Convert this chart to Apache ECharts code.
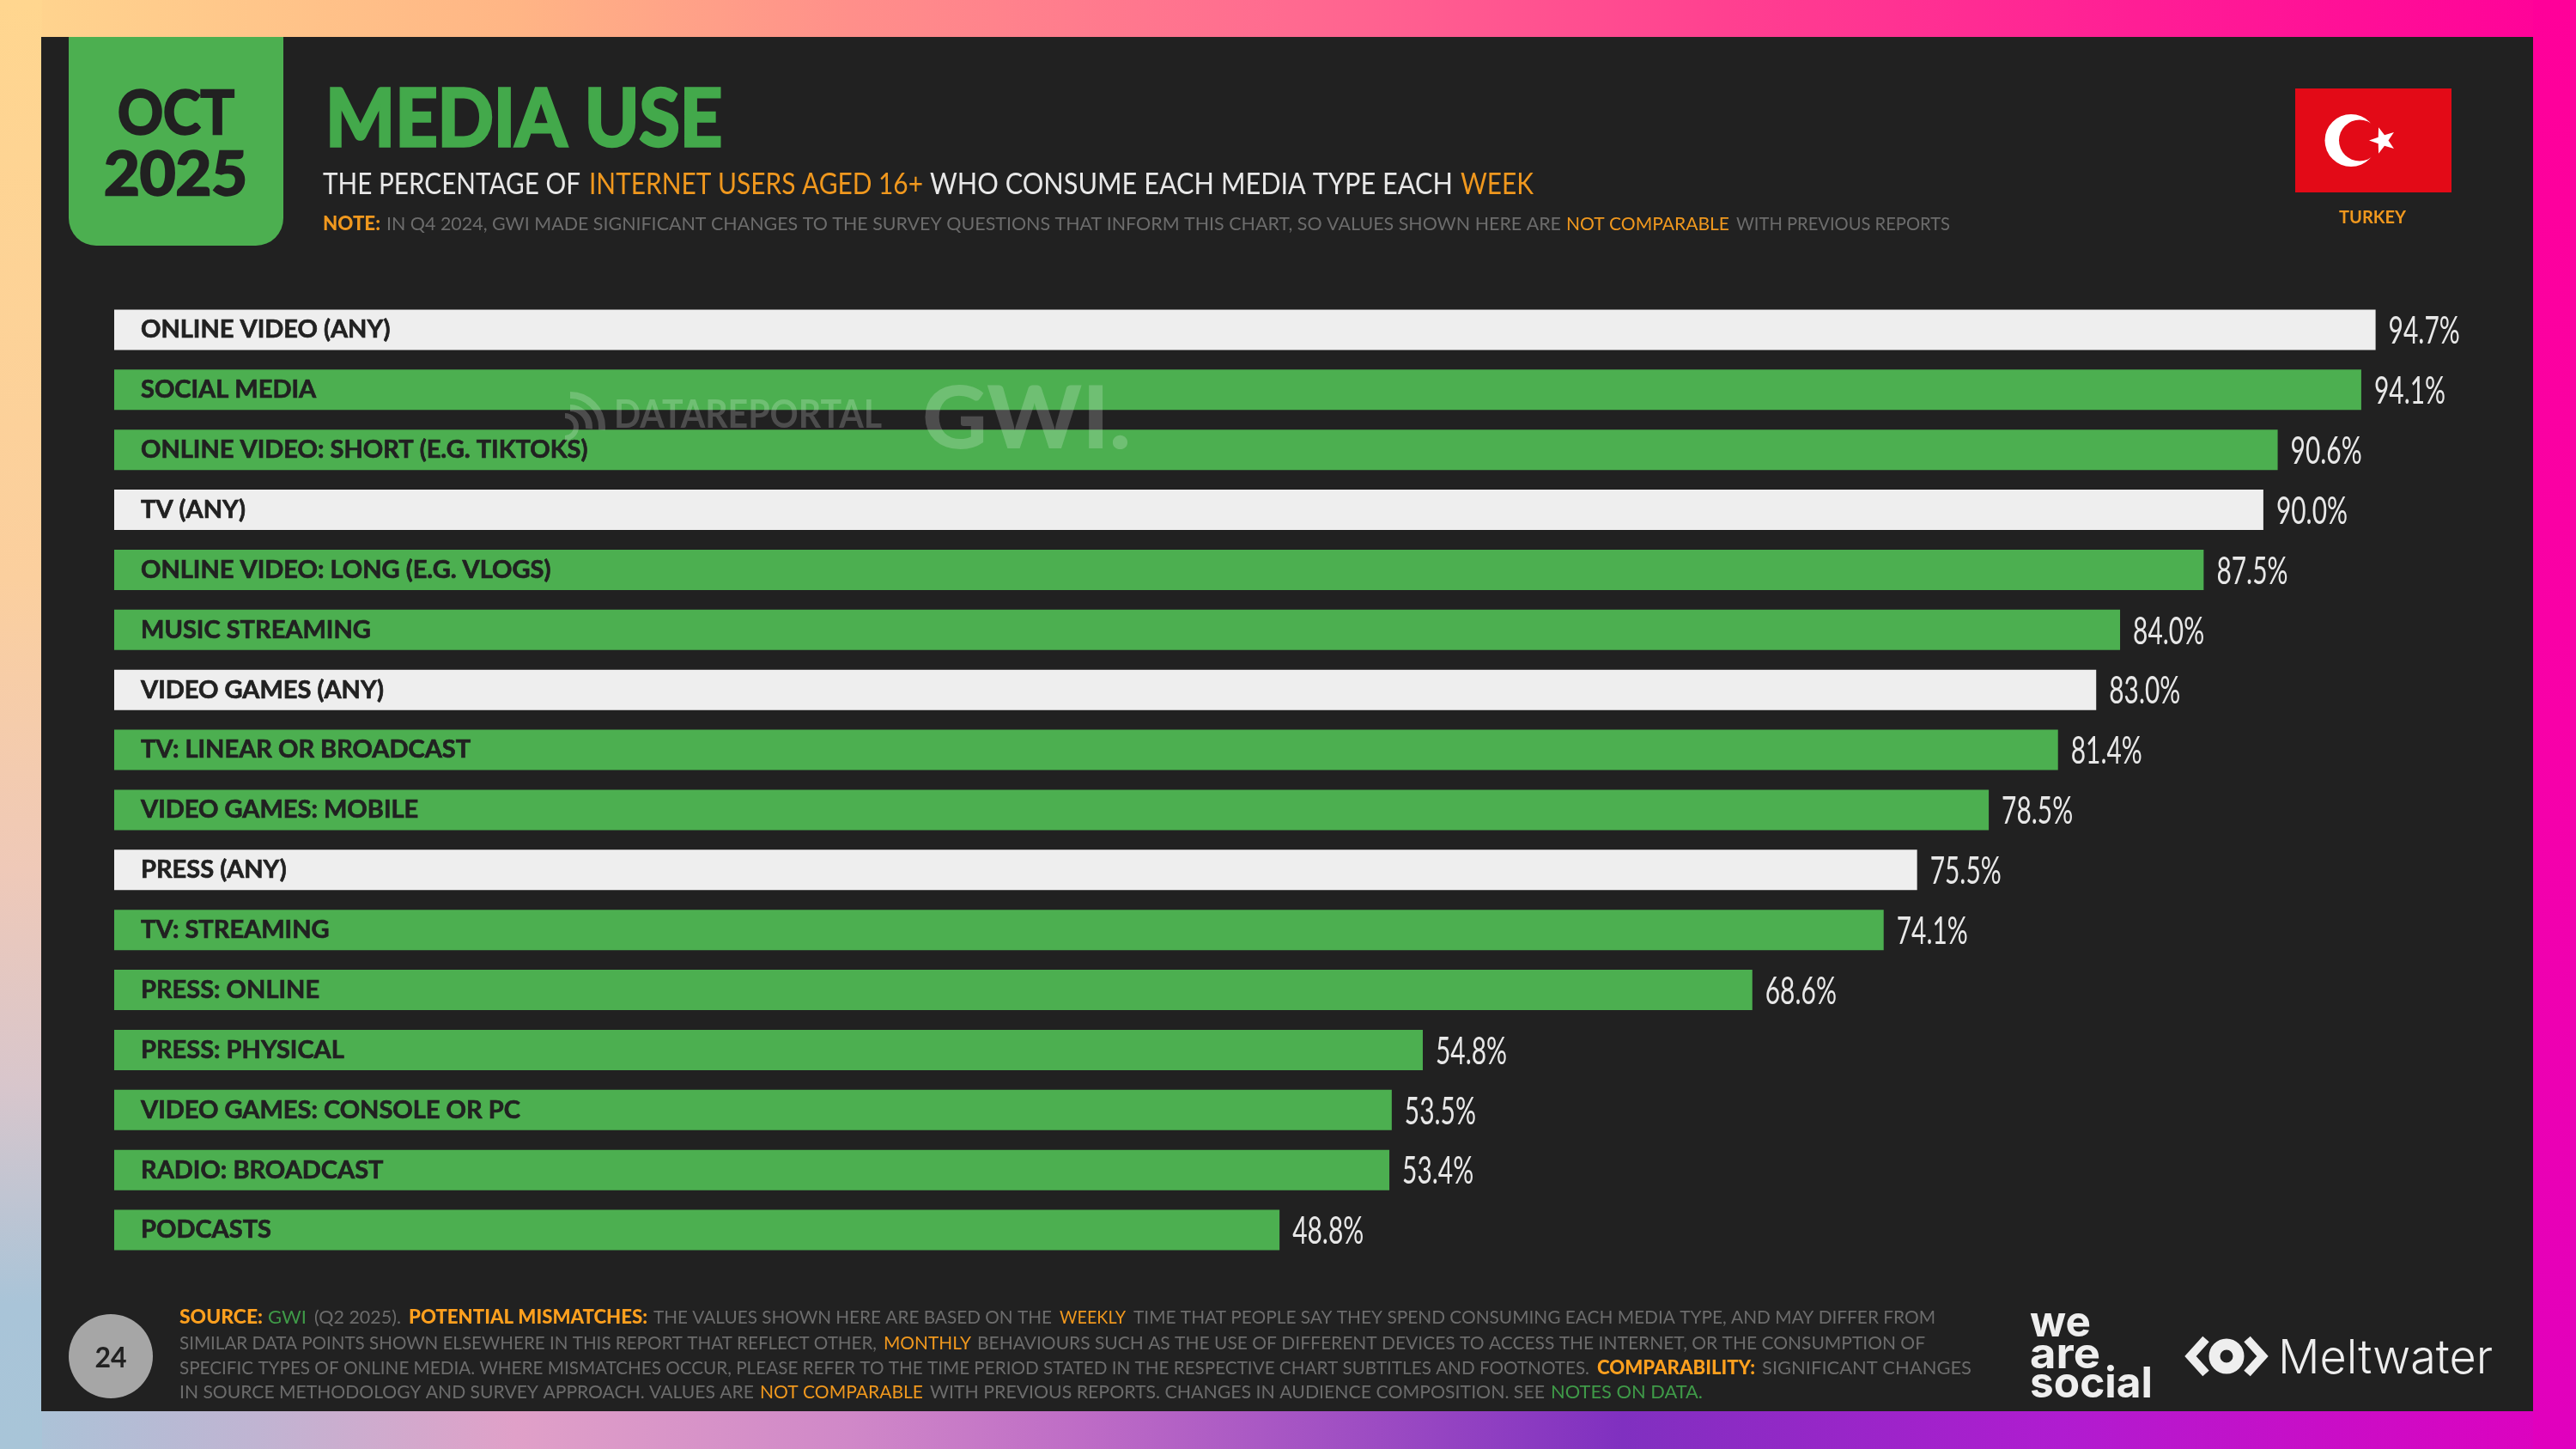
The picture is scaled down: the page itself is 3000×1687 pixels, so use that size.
<!DOCTYPE html>
<html><head><meta charset="utf-8"><title>Media Use</title>
<style>html,body{margin:0;padding:0;background:#212121}#c{width:3000px;height:1687px}</style>
<script src="https://cdn.jsdelivr.net/npm/echarts@6/dist/echarts.min.js"></script>
</head><body><div id="c"></div>
<script>
const categories = ['ONLINE VIDEO (ANY)','SOCIAL MEDIA','ONLINE VIDEO: SHORT (E.G. TIKTOKS)','TV (ANY)','ONLINE VIDEO: LONG (E.G. VLOGS)','MUSIC STREAMING','VIDEO GAMES (ANY)','TV: LINEAR OR BROADCAST','VIDEO GAMES: MOBILE','PRESS (ANY)','TV: STREAMING','PRESS: ONLINE','PRESS: PHYSICAL','VIDEO GAMES: CONSOLE OR PC','RADIO: BROADCAST','PODCASTS'];
const values = [94.7,94.1,90.6,90.0,87.5,84.0,83.0,81.4,78.5,75.5,74.1,68.6,54.8,53.5,53.4,48.8];

const GREEN='#4CAF50', WHITE='#EEEEEE', DARK='#212121', ORANGE='#F0981E', BRIGHT='#FFA01E', GREY='#6C6C6C', TXT='#E8E8E8', LINK='#3F9A48', FONT='Lato';
const measure = document.createElement('canvas').getContext('2d');
const grad = (x2,y2,stops)=>({type:'linear',x:0,y:0,x2,y2,colorStops:stops.map(([offset,color])=>({offset,color}))});
const els = [];
const rect=(x,y,width,height,fill,extra)=>els.push(Object.assign({type:'rect',silent:true,shape:{x,y,width,height},style:{fill}},extra||{}));

/* each segment: [text, colour, x start, x end, weight, font, outline] – squeezed to span its x range */
function line(segs,base,size,z){
  const y=base+size*0.2;
  segs.forEach(([text,fill,x0,x1,weight,family,outline])=>{
    const font=`${weight||400} ${size}px ${family||FONT}`;
    measure.font=font;
    const style={text,fill,font,textAlign:'left',textVerticalAlign:'bottom'};
    if(outline){style.stroke=fill;style.lineWidth=outline;}
    els.push({type:'text',silent:true,x:x0,y,scaleX:(x1-x0)/measure.measureText(text).width,z:z||1,style});
  });
}

/* frame */
rect(0,0,3000,44,grad(1,0,[[0,'#FFD68F'],[0.2,'#FFB585'],[0.33,'#FF8F8A'],[0.5,'#FF6A90'],[0.67,'#FF4090'],[0.83,'#FF1E95'],[1,'#FF0099']]));
rect(0,1642,3000,45,grad(1,0,[[0,'#A8C5D8'],[0.1,'#C0B4D2'],[0.2,'#E0A0C8'],[0.33,'#D088C8'],[0.42,'#BE6CC6'],[0.63,'#8030C0'],[0.8,'#B01CD0'],[1,'#E000BE']]));
rect(0,0,49,1687,grad(0,1,[[0,'#FFD68F'],[0.4,'#FBCF9E'],[0.6,'#EFC9B8'],[0.75,'#D8C6CC'],[0.9,'#A9C4D8'],[1,'#A8C5D8']]));
rect(2950,0,50,1687,grad(0,1,[[0,'#FF0099'],[0.5,'#F800A8'],[1,'#E000BE']]));
rect(48,43,2902,1600,DARK);

/* date tab */
rect(80,43,250,243,GREEN,{shape:{x:80,y:43,width:250,height:243,r:[0,0,32,32]}});
line([['OCT',DARK,137,273,700,FONT,2.5]],154,70);
line([['2025',DARK,121,288,700,FONT,2.5]],225,70);

/* headings */
line([['MEDIA USE','#43A94B',379,841,700,FONT,3.5]],168,92);
line([['THE PERCENTAGE OF',TXT,376,676],['INTERNET USERS AGED 16+',ORANGE,686,1075],['WHO CONSUME EACH MEDIA TYPE EACH',TXT,1083,1692],['WEEK',ORANGE,1701,1786]],225,35);
line([['NOTE:',ORANGE,376,443,900],['IN Q4 2024, GWI MADE SIGNIFICANT CHANGES TO THE SURVEY QUESTIONS THAT INFORM THIS CHART, SO VALUES SHOWN HERE ARE',GREY,450,1818],['NOT COMPARABLE',ORANGE,1824,2014],['WITH PREVIOUS REPORTS',GREY,2022,2271]],268,22);

/* flag */
rect(2673,103,182,121,'#E30A17');
els.push({type:'circle',silent:true,shape:{cx:2738,cy:163.5,r:30.5},style:{fill:'#FFFFFF'}});
els.push({type:'circle',silent:true,shape:{cx:2748,cy:163.5,r:24},style:{fill:'#E30A17'}});
const starPts=[];for(let i=0;i<10;i++){const r=i%2?6.5:16,a=Math.PI+i*Math.PI/5;starPts.push([2775+r*Math.cos(a),163.5+r*Math.sin(a)]);}
els.push({type:'polygon',silent:true,shape:{points:starPts},style:{fill:'#FFFFFF'}});
line([['TURKEY',ORANGE,2724,2802,700]],260,21);

/* watermark */
const WM='rgba(255,255,255,0.2)';
line([['DATAREPORTAL',WM,715,1027,700]],497,46,50);
line([['GWI.',WM,1074,1317,900]],520,101,50);
els.push({type:'arc',silent:true,z:50,shape:{cx:664,cy:497,r:37,startAngle:-Math.PI/2,endAngle:0.1},style:{stroke:WM,fill:null,lineWidth:8}});
els.push({type:'arc',silent:true,z:50,shape:{cx:664,cy:497,r:22,startAngle:-Math.PI/2,endAngle:0.1},style:{stroke:WM,fill:null,lineWidth:8}});
els.push({type:'arc',silent:true,z:50,shape:{cx:658,cy:497,r:13,startAngle:-Math.PI/2,endAngle:Math.PI/2},style:{stroke:WM,fill:null,lineWidth:6}});

/* footer */
els.push({type:'circle',silent:true,shape:{cx:129,cy:1579,r:49},style:{fill:'#A6A6A6'}});
els.push({type:'text',silent:true,x:129,y:1582,style:{text:'24',fill:DARK,font:'700 32px '+FONT,textAlign:'center',textVerticalAlign:'middle'}});
line([['SOURCE:',BRIGHT,209,306,900],['GWI',LINK,312,357],['(Q2 2025).',GREY,366,467],['POTENTIAL MISMATCHES:',BRIGHT,476,754,900],['THE VALUES SHOWN HERE ARE BASED ON THE',GREY,761,1225],['WEEKLY',ORANGE,1234,1311],['TIME THAT PEOPLE SAY THEY SPEND CONSUMING EACH MEDIA TYPE, AND MAY DIFFER FROM',GREY,1320,2254]],1541,22);
line([['SIMILAR DATA POINTS SHOWN ELSEWHERE IN THIS REPORT THAT REFLECT OTHER,',GREY,209,1021],['MONTHLY',ORANGE,1029,1131],['BEHAVIOURS SUCH AS THE USE OF DIFFERENT DEVICES TO ACCESS THE INTERNET, OR THE CONSUMPTION OF',GREY,1138,2242]],1571,22);
line([['SPECIFIC TYPES OF ONLINE MEDIA. WHERE MISMATCHES OCCUR, PLEASE REFER TO THE TIME PERIOD STATED IN THE RESPECTIVE CHART SUBTITLES AND FOOTNOTES.',GREY,209,1851],['COMPARABILITY:',BRIGHT,1860,2044,900],['SIGNIFICANT CHANGES',GREY,2052,2296]],1600,22);
line([['IN SOURCE METHODOLOGY AND SURVEY APPROACH. VALUES ARE',GREY,209,878],['NOT COMPARABLE',ORANGE,885,1075],['WITH PREVIOUS REPORTS. CHANGES IN AUDIENCE COMPOSITION. SEE',GREY,1083,1799],['NOTES ON DATA.',LINK,1806,1983]],1628,22);

/* logos */
const LOGO='#EEEEEE';
line([['we',LOGO,2364,2435,700,'Inter']],1556,50);
line([['are',LOGO,2364,2446,700,'Inter']],1593,50);
line([['social',LOGO,2364,2507,700,'Inter']],1627,50);
els.push({type:'circle',silent:true,shape:{cx:2593,cy:1579,r:14},style:{fill:null,stroke:LOGO,lineWidth:13}});
els.push({type:'polyline',silent:true,shape:{points:[[2569,1559],[2551,1579],[2569,1599]]},style:{fill:null,stroke:LOGO,lineWidth:10}});
els.push({type:'polyline',silent:true,shape:{points:[[2617,1559],[2635,1579],[2617,1599]]},style:{fill:null,stroke:LOGO,lineWidth:10}});
line([['Meltwater',LOGO,2653,2903,300,'Inter']],1599,55);

const chart = echarts.init(document.getElementById('c'),null,{renderer:'canvas'});
chart.setOption({
  animation:false,
  backgroundColor:DARK,
  graphic:{elements:els},
  grid:{left:133,top:349,width:2781,height:1118,containLabel:false},
  xAxis:{type:'value',min:0,max:100,show:false},
  yAxis:{type:'category',inverse:true,data:categories,z:5,
    axisLine:{show:false},axisTick:{show:false},splitLine:{show:false},
    axisLabel:{inside:true,margin:31,color:'#212121',fontFamily:FONT,fontWeight:700,fontSize:29,padding:[6,0,0,0],textBorderColor:'#212121',textBorderWidth:0.7}},
  series:[
    {type:'bar',barWidth:47,silent:true,
     data:values.map((v,i)=>({value:v,itemStyle:{color:categories[i].includes('(ANY)')?WHITE:GREEN}}))},
    {type:'custom',silent:true,z:6,coordinateSystem:'cartesian2d',
     encode:{x:0,y:1},
     data:values.map((v,i)=>[v,i]),
     renderItem(params,api){
       const p=api.coord([api.value(0),api.value(1)]);
       return {type:'text',x:p[0]+15,y:p[1]+2,scaleX:0.68,
         style:{text:api.value(0).toFixed(1)+'%',fill:TXT,font:'400 44px Lato',textAlign:'left',textVerticalAlign:'middle'}};
     }}
  ]
});
</script></body></html>
